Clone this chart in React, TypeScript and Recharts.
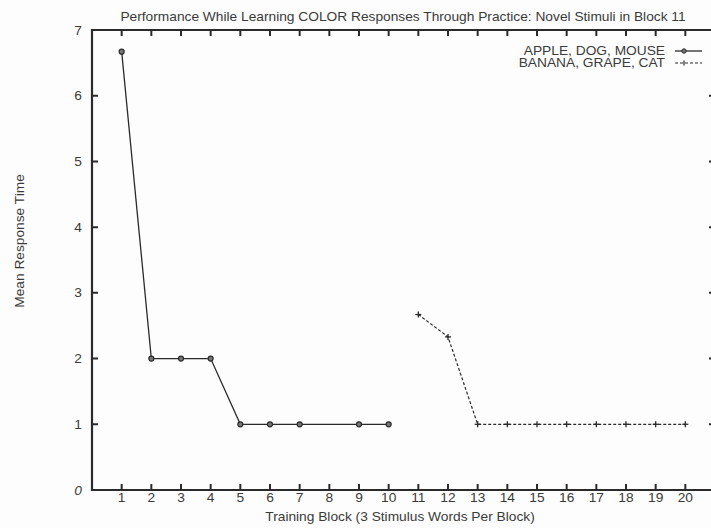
import { LineChart, Line, XAxis, YAxis } from "recharts";

const blocks = [1, 2, 3, 4, 5, 6, 7, 8, 9, 10, 11, 12, 13, 14, 15, 16, 17, 18, 19, 20];
// block 8 has no marker for the first group; the line just runs 7 -> 9
const appleDogMouse = [6.67, 2, 2, 2, 1, 1, 1, null, 1, 1, null, null, null, null, null, null, null, null, null, null];
const bananaGrapeCat = [null, null, null, null, null, null, null, null, null, null, 2.67, 2.33, 1, 1, 1, 1, 1, 1, 1, 1];
const yTicks = [0, 1, 2, 3, 4, 5, 6, 7];
const X_DOMAIN: [number, number] = [0, 21];
const Y_DOMAIN: [number, number] = [0, 7];

const TITLE = "Performance While Learning COLOR Responses Through Practice: Novel Stimuli in Block 11";
const X_LABEL = "Training Block (3 Stimulus Words Per Block)";
const Y_LABEL = "Mean Response Time";
const SERIES_A = "APPLE, DOG, MOUSE";
const SERIES_B = "BANANA, GRAPE, CAT";

// layout (the plot box is drawn from these, the marks come from the scales)
const CHART_W = 720;
const CHART_H = 528;
const MARGIN = { top: 30, right: 5, bottom: 0, left: 0 };
const Y_AXIS_W = 92;
const X_AXIS_H = 38;
const PLOT_LEFT = MARGIN.left + Y_AXIS_W;
const PLOT_RIGHT = CHART_W - MARGIN.right;
const PLOT_TOP = MARGIN.top;
const PLOT_BOTTOM = CHART_H - MARGIN.bottom - X_AXIS_H;
const TICK = 6;

const INK = "#2a2a2a";
const TEXT = "#3a3a3a";
const FONT = "'Liberation Sans', Arial, sans-serif";
const FS = 12.5;
const STRETCH = 1.1; // the scan is a bit wider than it is tall

const data = blocks.map((b, i) => ({
  block: b,
  a: appleDogMouse[i],
  b: bananaGrapeCat[i],
}));

type TickProps = { x?: number; y?: number; payload?: { value: number } };

function Txt({
  x,
  y,
  anchor = "middle",
  rotate = 0,
  italic = false,
  children,
}: {
  x: number;
  y: number;
  anchor?: "start" | "middle" | "end";
  rotate?: number;
  italic?: boolean;
  children: React.ReactNode;
}) {
  return (
    <text
      transform={`translate(${x},${y}) rotate(${rotate}) scale(${STRETCH},1)`}
      textAnchor={anchor}
      fontSize={FS}
      fill={TEXT}
      fontFamily={FONT}
      fontStyle={italic ? "italic" : "normal"}
    >
      {children}
    </text>
  );
}

// bottom ticks point inward, and are mirrored on the top edge
function XTick({ x = 0, y = 0, payload }: TickProps) {
  return (
    <g>
      <path d={`M${x},${y}V${y - TICK}M${x},${PLOT_TOP}V${PLOT_TOP + TICK}`} stroke={INK} strokeWidth={2} fill="none" />
      <Txt x={x} y={y + 12}>
        {payload?.value}
      </Txt>
    </g>
  );
}

// left ticks point inward, and are mirrored on the right edge
function YTick({ x = 0, y = 0, payload }: TickProps) {
  const v = payload?.value ?? 0;
  return (
    <g>
      <path d={`M${x},${y}H${x + TICK}M${PLOT_RIGHT},${y}H${PLOT_RIGHT - TICK}`} stroke={INK} strokeWidth={2} fill="none" />
      <Txt x={x - 10} y={y + 4.5} anchor="end" italic={v === 0}>
        {v}
      </Txt>
    </g>
  );
}

function CircleDot({ cx, cy, value }: { cx?: number; cy?: number; value?: number | null }) {
  if (cx == null || cy == null || value == null) return null;
  return <circle cx={cx} cy={cy} r={2.5} fill="#777" stroke={INK} strokeWidth={1.2} />;
}

function CrossDot({ cx, cy, value }: { cx?: number; cy?: number; value?: number | null }) {
  if (cx == null || cy == null || value == null) return null;
  return (
    <g stroke={INK} strokeWidth={1.3}>
      <line x1={cx - 3} x2={cx + 3} y1={cy} y2={cy} />
      <line x1={cx} x2={cx} y1={cy - 3} y2={cy + 3} />
    </g>
  );
}

function Frame() {
  const d = `M${PLOT_LEFT},${PLOT_TOP}H${PLOT_RIGHT}V${PLOT_BOTTOM}H${PLOT_LEFT}Z`;
  return <path d={d} fill="none" stroke={INK} strokeWidth={2.2} />;
}

function Overlay() {
  return (
    <svg width={711} height={528} style={{ position: "absolute", left: 0, top: 0, pointerEvents: "none" }}>
      <Frame />
      <Txt x={403} y={21}>{TITLE}</Txt>
      <Txt x={400} y={521}>{X_LABEL}</Txt>
      <Txt x={24} y={241} rotate={-90}>{Y_LABEL}</Txt>
      {/* legend */}
      <Txt x={665} y={55} anchor="end">{SERIES_A}</Txt>
      <Txt x={665} y={67} anchor="end">{SERIES_B}</Txt>
      <path d="M675,51H702" stroke={INK} strokeWidth={1.3} />
      <circle cx={684} cy={51} r={2.2} fill="#777" stroke={INK} strokeWidth={1} />
      <path d="M675,63H702" stroke={INK} strokeWidth={1.2} strokeDasharray="3 2" />
      <path d="M684,60.5V65.5" stroke={INK} strokeWidth={1.2} />
    </svg>
  );
}

export default function App() {
  return (
    <div style={{ position: "absolute", left: 0, top: 0, width: 711, height: 528, background: "#fdfdfd", overflow: "hidden" }}>
      <div style={{ position: "absolute", left: 0, top: 0 }}>
        <LineChart width={CHART_W} height={CHART_H} data={data} margin={MARGIN}>
          <XAxis
            dataKey="block"
            type="number"
            domain={X_DOMAIN}
            ticks={blocks}
            interval={0}
            height={X_AXIS_H}
            tickSize={0}
            tickMargin={0}
            tickLine={false}
            axisLine={false}
            tick={<XTick />}
          />
          <YAxis
            domain={Y_DOMAIN}
            ticks={yTicks}
            interval={0}
            width={Y_AXIS_W}
            tickSize={0}
            tickMargin={0}
            tickLine={false}
            axisLine={false}
            tick={<YTick />}
          />
          <Line
            dataKey="a"
            name={SERIES_A}
            stroke={INK}
            strokeWidth={1.3}
            connectNulls
            dot={<CircleDot />}
            activeDot={false}
            isAnimationActive={false}
          />
          <Line
            dataKey="b"
            name={SERIES_B}
            stroke={INK}
            strokeWidth={1.2}
            strokeDasharray="3 2"
            connectNulls
            dot={<CrossDot />}
            activeDot={false}
            isAnimationActive={false}
          />
        </LineChart>
      </div>
      <Overlay />
    </div>
  );
}
